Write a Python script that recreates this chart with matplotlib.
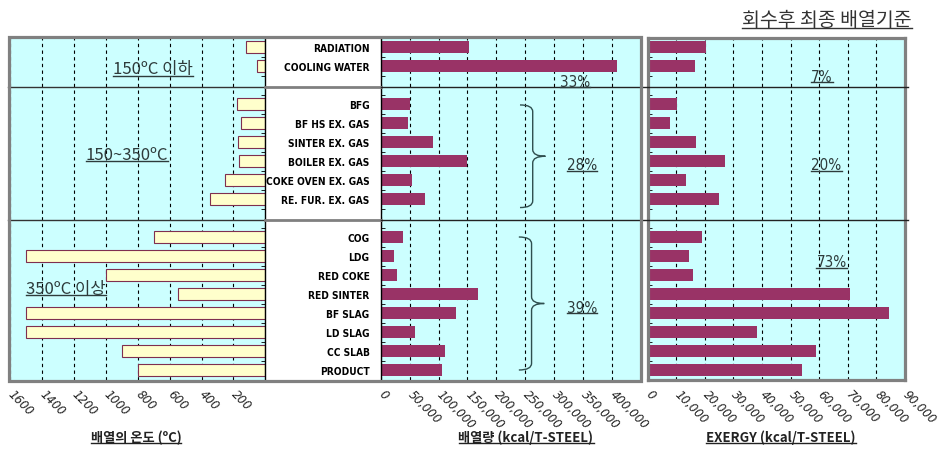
import os
import matplotlib
matplotlib.use('Agg')
import matplotlib.pyplot as plt
from matplotlib import font_manager as fm
from matplotlib.patches import Rectangle, PathPatch
from matplotlib.path import Path
from matplotlib.lines import Line2D
import matplotlib.transforms as mtransforms

# ---------------- data ----------------
group1 = ['RADIATION', 'COOLING WATER']
group2 = ['BFG', 'BF HS EX. GAS', 'SINTER EX. GAS', 'BOILER EX. GAS',
          'COKE OVEN EX. GAS', 'RE. FUR. EX. GAS']
group3 = ['COG', 'LDG', 'RED COKE', 'RED SINTER', 'BF SLAG', 'LD SLAG',
          'CC SLAB', 'PRODUCT']
groups = [group1, group2, group3]

temperature = [120, 50,
               180, 150, 170, 165, 250, 350,
               700, 1500, 1000, 550, 1500, 1500, 900, 800]
heat_amount = [153000, 409000,
               50000, 47000, 90000, 150000, 54000, 76000,
               39000, 22500, 28000, 168000, 131000, 59000, 111000, 106000]
exergy = [20300, 16400,
          10100, 7700, 16800, 26900, 13300, 24900,
          19000, 14400, 15800, 70900, 84300, 38200, 58700, 54100]

group_names = ['150ºC 이하', '150~350ºC', '350ºC 이상']
heat_share = ['33%', '28%', '39%']
exergy_share = ['7%', '20%', '73%']

temp_ticks = [1600, 1400, 1200, 1000, 800, 600, 400, 200]
heat_ticks = [0, 50000, 100000, 150000, 200000, 250000, 300000, 350000, 400000]
exergy_ticks = [0, 10000, 20000, 30000, 40000, 50000, 60000, 70000, 80000, 90000]

title_text = '회수후 최종 배열기준'
xlabel_temp = '배열의 온도 (ºC)'
xlabel_heat = '배열량 (kcal/T-STEEL)'
xlabel_exergy = 'EXERGY (kcal/T-STEEL)'

# ---------------- fonts ----------------
COND_STRETCH = ('condensed', 'semi-condensed', 'extra-condensed', 'ultra-condensed')


def is_narrow(f):
    s = (f.name + ' ' + os.path.basename(f.fname)).lower()
    return ('condensed' in s or 'narrow' in s or str(f.stretch) in COND_STRETCH)


def is_bold(f):
    w = f.weight
    if isinstance(w, str):
        return w in ('bold', 'heavy', 'black', 'extra bold', 'semibold', 'demibold')
    return w >= 600


def is_upright(f):
    return f.style == 'normal'


narrow = [f for f in fm.fontManager.ttflist if is_narrow(f) and is_upright(f)
          and not f.fname.lower().endswith('.afm')]
narrow_bold = [f for f in narrow if is_bold(f)]
narrow_reg = [f for f in narrow if not is_bold(f)]

if narrow_bold:
    BOLD_FP = fm.FontProperties(fname=sorted(narrow_bold, key=lambda f: f.fname)[0].fname)
else:
    BOLD_FP = fm.FontProperties(family=['Roboto', 'DejaVu Sans'], weight='bold')
if narrow_reg:
    REG_FP = fm.FontProperties(fname=sorted(narrow_reg, key=lambda f: f.fname)[0].fname)
else:
    REG_FP = fm.FontProperties(family=['Roboto', 'DejaVu Sans'])

KR = ['Noto Sans CJK KR', 'DejaVu Sans']

# ---------------- layout ----------------
W, H = 947, 452
fig = plt.figure(figsize=(W / 100, H / 100), dpi=100)
renderer = fig.canvas.get_renderer()


def fit_size(fp, sample, target_px, max_size):
    t = fig.text(0, 0, sample, fontproperties=fp)
    t.set_fontsize(10)
    w = t.get_window_extent(renderer).width
    t.remove()
    return min(max_size, 10 * target_px / w)


label_size = fit_size(BOLD_FP, 'COOLING WATER', 85, 10)
share_size = fit_size(REG_FP, '33%', 30, 13)


def fx(px):
    return px / W


def fy(py):
    return 1 - py / H


TOP, BOT = 38.5, 380.5
ax_t = fig.add_axes([fx(10.3), fy(BOT), (265.3 - 10.3) / W, (BOT - TOP) / H])
ax_h = fig.add_axes([fx(380.7), fy(BOT), (640.8 - 380.7) / W, (BOT - TOP) / H])
ax_e = fig.add_axes([fx(647.7), fy(BOT), (905.0 - 647.7) / W, (BOT - TOP) / H])

# positions: one empty slot between groups
positions = []
gap_positions = []
group_spans = []
p = 0
for gi, g in enumerate(groups):
    start = p
    for _ in g:
        positions.append(p)
        p += 1
    group_spans.append((start, p - 1))
    if gi < len(groups) - 1:
        gap_positions.append(p)
        p += 1
n_slots = p
categories = group1 + group2 + group3

BAR_H = 0.66
MAROON = '#993366'
BG = '#CCFFFF'
GRAY = '#808080'
DARK = '#2E3B3B'

for ax in (ax_t, ax_h, ax_e):
    ax.set_facecolor(BG)
    ax.set_ylim(n_slots - 0.5, -0.5)
    ax.grid(axis='x', color='black', linestyle=(0, (3, 3)), linewidth=0.8)
    ax.set_axisbelow(True)
    ax.set_yticks([k - 0.5 for k in range(1, n_slots)], minor=True)
    ax.tick_params(axis='x', length=0, labelsize=8.5, pad=9, labelcolor='#222222')

ax_t.barh(positions, temperature, height=BAR_H, color='#FFFFCC',
          edgecolor='#7F2F4F', linewidth=0.8)
ax_h.barh(positions, heat_amount, height=BAR_H, color=MAROON)
ax_e.barh(positions, exergy, height=BAR_H, color=MAROON)

ax_t.set_xlim(1600, 0)
ax_h.set_xlim(0, 450000)
ax_e.set_xlim(0, 90000)

ax_t.set_xticks(temp_ticks, [str(v) for v in temp_ticks])
ax_h.set_xticks(heat_ticks, ['0'] + [f'{v:,}' for v in heat_ticks[1:]])
ax_e.set_xticks(exergy_ticks, ['0'] + [f'{v:,}' for v in exergy_ticks[1:]])

for ax in (ax_t, ax_h, ax_e):
    for lab in ax.get_xticklabels():
        lab.set_rotation(-45)
        lab.set_rotation_mode('anchor')
        lab.set_ha('left')
        lab.set_va('center')
        lab.set_fontstyle('italic')

# y ticks
ax_t.set_yticks([])
ax_t.yaxis.set_ticks_position('right')
ax_t.tick_params(axis='y', which='minor', direction='in', length=3,
                 right=True, left=False, labelright=False, labelleft=False)
ax_h.set_yticks(positions, categories)
ax_h.tick_params(axis='y', which='major', length=0, pad=8)
ax_h.tick_params(axis='y', which='minor', direction='in', length=3)
for lab in ax_h.get_yticklabels():
    lab.set_fontproperties(BOLD_FP)
    lab.set_fontsize(label_size)
ax_e.set_yticks([])
ax_e.tick_params(axis='y', which='minor', direction='in', length=3)
ax_e.set_yticklabels([], minor=True)
ax_t.set_yticklabels([], minor=True)
ax_h.set_yticklabels([], minor=True)

# spines
for s in ('left', 'top', 'bottom'):
    ax_t.spines[s].set_visible(False)
ax_t.spines['right'].set_color('black')
ax_t.spines['right'].set_linewidth(1)
for s in ('right', 'top', 'bottom'):
    ax_h.spines[s].set_visible(False)
ax_h.spines['left'].set_color('black')
ax_h.spines['left'].set_linewidth(1)
for s in ax_e.spines.values():
    s.set_color(GRAY)
    s.set_linewidth(2.3)

# outer frame of left block
fig.add_artist(Rectangle((fx(8.8), fy(381.5)), (640.8 - 8.8) / W, (381.5 - 37.5) / H,
                         transform=fig.transFigure, facecolor='none',
                         edgecolor=GRAY, linewidth=2.3, zorder=10))

# separators between groups
blend = mtransforms.blended_transform_factory(fig.transFigure, ax_t.transData)
for gp in gap_positions:
    ysep = gp + 0.12
    fig.add_artist(Line2D([fx(8), fx(265.3)], [ysep, ysep], transform=blend,
                          color='#333333', linewidth=1, zorder=5))
    fig.add_artist(Line2D([fx(265.3), fx(380.7)], [ysep, ysep], transform=blend,
                          color=GRAY, linewidth=2, zorder=5))
    fig.add_artist(Line2D([fx(380.7), fx(908)], [ysep, ysep], transform=blend,
                          color='#222222', linewidth=1, zorder=5))

# group labels in temperature panel
under_texts = []
group_label_pos = [(704, 1.15), (868, 5.65), (1252, 12.7)]
for name, (xv, yv) in zip(group_names, group_label_pos):
    t = ax_t.text(xv, yv, name, ha='center', va='center', fontsize=12,
                  family=KR, color=DARK)
    under_texts.append(t)


def share_text(ax, xv, yv, s):
    t = ax.text(xv, yv, s, fontproperties=REG_FP, ha='center', va='center',
                color=DARK)
    t.set_fontsize(share_size)
    return t


heat_share_pos = [(336000, 1.8), (348000, 6.2), (348000, 13.7)]
for s, (xv, yv) in zip(heat_share, heat_share_pos):
    under_texts.append(share_text(ax_h, xv, yv, s))
exergy_share_pos = [(61000, 1.55), (62500, 6.2), (64300, 11.3)]
for s, (xv, yv) in zip(exergy_share, exergy_share_pos):
    under_texts.append(share_text(ax_e, xv, yv, s))


# braces
def brace(ax, y0, y1, x0, xm, xt, color='#2F4F4F'):
    ym = (y0 + y1) / 2
    d = 0.35
    verts = [(x0, y0), (xm, y0), (xm, y0 + d),
             (xm, ym - d), (xm, ym), (xt, ym),
             (xm, ym), (xm, ym + d),
             (xm, y1 - d), (xm, y1), (x0, y1)]
    codes = [Path.MOVETO, Path.CURVE3, Path.CURVE3,
             Path.LINETO, Path.CURVE3, Path.CURVE3,
             Path.CURVE3, Path.CURVE3,
             Path.LINETO, Path.CURVE3, Path.CURVE3]
    ax.add_patch(PathPatch(Path(verts, codes), facecolor='none',
                           edgecolor=color, linewidth=1, zorder=4))


brace(ax_h, group_spans[1][0] + 0.05, group_spans[1][1] + 0.45, 241000, 263000, 285000)
brace(ax_h, group_spans[2][0] + 0.0, group_spans[2][1] + 0.0, 239000, 261000, 283000)

# axis titles and main title
for xp, txt in ((136, xlabel_temp), (526, xlabel_heat), (781, xlabel_exergy)):
    t = fig.text(fx(xp), fy(438), txt, ha='center', va='center',
                 fontsize=9.5, family=KR, fontweight='bold', color='#222222')
    under_texts.append(t)
t = fig.text(fx(827), fy(20), title_text, ha='center', va='center',
             fontsize=14, family=KR, color='#333333')
under_texts.append(t)

# underline these texts
fig.canvas.draw()
renderer = fig.canvas.get_renderer()
for t in under_texts:
    bb = t.get_window_extent(renderer)
    y = bb.y0 + 1.5
    fig.add_artist(Line2D([bb.x0 / W, bb.x1 / W], [y / H, y / H],
                          transform=fig.transFigure, color=t.get_color(),
                          linewidth=1, zorder=12))

fig.savefig('out.png', dpi=100)
